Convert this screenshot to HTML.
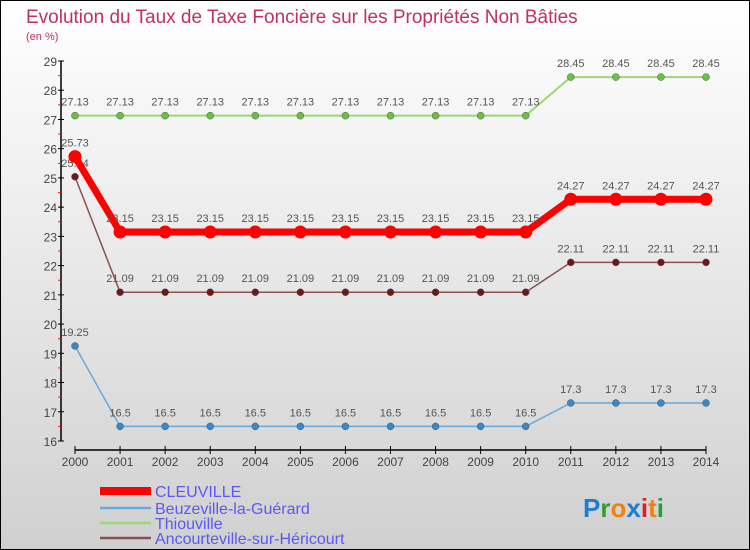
<!DOCTYPE html>
<html><head><meta charset="utf-8"><style>
body{margin:0;width:750px;height:550px;overflow:hidden;font-family:"Liberation Sans",sans-serif}
svg{display:block}
</style></head><body>
<svg id="chart" width="750" height="550" xmlns="http://www.w3.org/2000/svg">
<defs><linearGradient id="bg" x1="0" y1="0" x2="0" y2="1"><stop offset="0" stop-color="#ffffff"/><stop offset="1" stop-color="#d0d0d0"/></linearGradient></defs>
<rect x="0.5" y="0.5" width="749" height="549" fill="url(#bg)" stroke="#000"/>
<text x="26" y="23" font-size="19" fill="#c03060">Evolution du Taux de Taxe Foncière sur les Propriétés Non Bâties</text>
<text x="26" y="40" font-size="11" fill="#c03060">(en %)</text>
<g id="axes"></g>
<g id="series"></g>
<g id="legend"></g>
<text x="583" y="517" font-size="26" font-weight="bold"><tspan fill="#1a7fd0">P</tspan><tspan fill="#3a9a30">r</tspan><tspan fill="#f08010">o</tspan><tspan fill="#1a7fd0">x</tspan><tspan fill="#e02020">i</tspan><tspan fill="#f08010">t</tspan><tspan fill="#20a040">i</tspan></text>
</svg>
<script>
const years=[2000,2001,2002,2003,2004,2005,2006,2007,2008,2009,2010,2011,2012,2013,2014];
const yTicks=[16,17,18,19,20,21,22,23,24,25,26,27,28,29];
const seriesNames=["CLEUVILLE","Beuzeville-la-Guérard","Thiouville","Ancourteville-sur-Héricourt"];
const cleuville=[25.73,23.15,23.15,23.15,23.15,23.15,23.15,23.15,23.15,23.15,23.15,24.27,24.27,24.27,24.27];
const beuzeville=[19.25,16.5,16.5,16.5,16.5,16.5,16.5,16.5,16.5,16.5,16.5,17.3,17.3,17.3,17.3];
const thiouville=[27.13,27.13,27.13,27.13,27.13,27.13,27.13,27.13,27.13,27.13,27.13,28.45,28.45,28.45,28.45];
const ancourteville=[25.04,21.09,21.09,21.09,21.09,21.09,21.09,21.09,21.09,21.09,21.09,22.11,22.11,22.11,22.11];

const NS="http://www.w3.org/2000/svg";
const X0=75,X1=706,Y16=441,Y29=61;
const xs=i=>X0+(X1-X0)*i/(years.length-1);
const ys=v=>Y16-(v-16)*(Y16-Y29)/13;
function mk(tag,at,parent){const e=document.createElementNS(NS,tag);for(const k in at)e.setAttribute(k,at[k]);parent.appendChild(e);return e;}
const axes=document.getElementById('axes');
let l=mk('line',{x1:61,y1:Y29,x2:61,y2:Y16,stroke:'#000','stroke-width':1.5},axes);


yTicks.forEach(t=>{
 const y=ys(t);
 mk('line',{x1:58,y1:y,x2:64,y2:y,stroke:'#000'},axes);
 if(t<29) mk('line',{x1:58,y1:y-14.6,x2:61,y2:y-14.6,stroke:'#e02020'},axes);
 const tx=mk('text',{x:57,y:y+5,'font-size':12,'text-anchor':'end',fill:'#444'},axes);
 tx.textContent=t;
 
 
});
l=mk('line',{x1:X0,y1:450,x2:X1,y2:450,stroke:'#000','stroke-width':1.5},axes);


years.forEach((yr,i)=>{
 const x=xs(i);
 mk('line',{x1:x,y1:446,x2:x,y2:454,stroke:'#000'},axes);
 const tx=mk('text',{x:x,y:466,'font-size':12,'text-anchor':'middle',fill:'#444'},axes);
 tx.textContent=yr;
 
 
});
const sg=document.getElementById('series');
const defs=[[thiouville,'#9cd67a','#6cc040',2,3.5,'thiouville'],[beuzeville,'#6aa8d8','#3a88c8',1.5,3.5,'beuzeville'],[ancourteville,'#8a5050','#6a1a1a',1.5,3.5,'ancourteville'],[cleuville,'#ff0000','#ff0000',7,6.5,'cleuville']];
defs.forEach(([vals,lc,pc,w,r,name])=>{
 const g=mk('g',{},sg);
 
 
 const p=mk('polyline',{points:vals.map((v,i)=>xs(i)+','+ys(v)).join(' '),fill:'none',stroke:lc,'stroke-width':w},g);
 
 
 vals.forEach((v,i)=>{
  const c=mk('circle',{cx:xs(i),cy:ys(v),r:r,fill:pc,stroke:name=='cleuville'?'none':'#555','stroke-width':0.5},g);
  
  
  const t=mk('text',{x:xs(i),y:ys(v)-10,'font-size':11,'text-anchor':'middle',fill:'#555'},g);
  t.textContent=String(v);
  
  
 });
});
const lg=document.getElementById('legend');
const lcol=['#ff0000','#6aa8d8','#9cd67a','#8a5050'],lw=[8,2.5,2.5,2.5],ly=[492,509,524,539];
seriesNames.forEach((n,i)=>{
 const g=mk('g',{},lg);
 
 
 mk('line',{x1:100,y1:ly[i]-1,x2:151,y2:ly[i]-1,stroke:lcol[i],'stroke-width':lw[i]},g);
 const t=mk('text',{x:155,y:ly[i]+5,'font-size':16,fill:'#5a5af0'},g);
 t.textContent=n;
});
</script>
</body></html>
